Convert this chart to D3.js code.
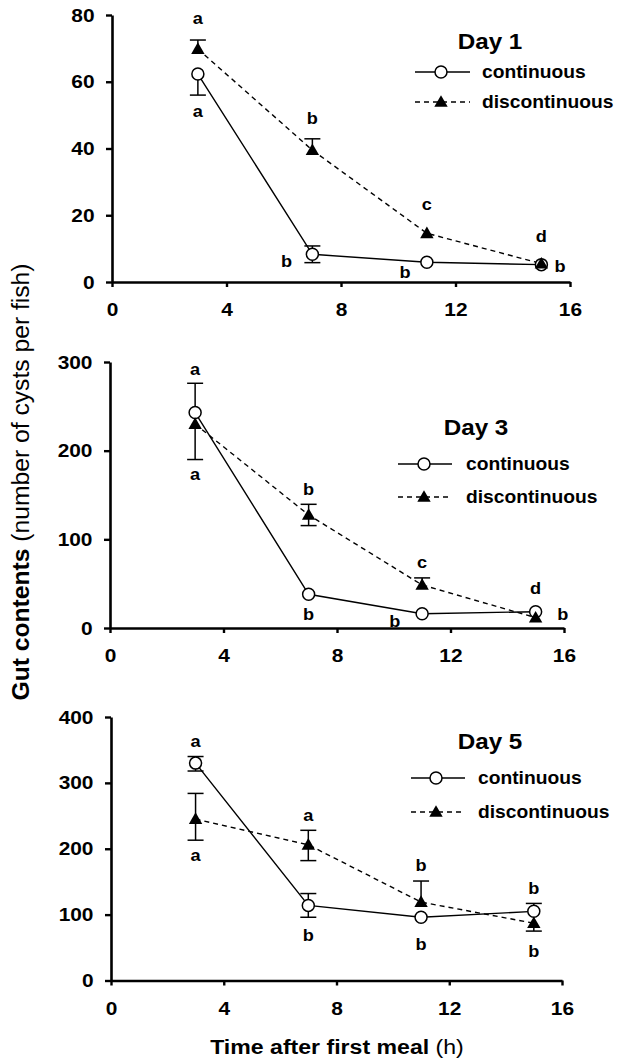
<!DOCTYPE html>
<html>
<head>
<meta charset="utf-8">
<script src="https://cdn.jsdelivr.net/npm/d3@7"></script>
<style>
  body { margin: 0; background: #fff; }
  svg { display: block; font-family: "Liberation Sans", Arial, Helvetica, sans-serif; }
</style>
</head>
<body>
<div id="chart"></div>
<script>
// sampling times (h) and axis ticks
var hours = [3, 7, 11, 15];
var xTicks = [0, 4, 8, 12, 16];
var seriesNames = ["continuous", "discontinuous"];
var dayNames = ["Day 1", "Day 3", "Day 5"];

// Day 1 (gut contents, cysts per fish)
var d1Cont = [62.3, 8.3, 5.9, 5.2];
var d1ContUp = [0, 2.5, 0, 0];
var d1ContDn = [6.3, 2.5, 0, 0];
var d1Disc = [69.8, 39.5, 14.6, 5.5];
var d1DiscUp = [2.7, 3.4, 0, 0];
var d1DiscDn = [0, 0, 0, 0];
var d1Ticks = [0, 20, 40, 60, 80];
var d1Letters = [[3, 78.9, "a"], [3, 51, "a"], [7, 49, "b"], [6.1, 6.2, "b"],
                 [11, 23.3, "c"], [10.24, 2.9, "b"], [15, 13.7, "d"], [15.65, 4.7, "b"]];

// Day 3
var d3Cont = [243, 38, 16, 18.4];
var d3ContUp = [33, 0, 0, 0];
var d3ContDn = [0, 0, 0, 0];
var d3Disc = [230, 127.5, 48.5, 11.7];
var d3DiscUp = [0, 12, 8, 0];
var d3DiscDn = [40, 12, 0, 0];
var d3Ticks = [0, 100, 200, 300];
var d3Letters = [[3, 292, "a"], [3, 173.6, "a"], [7, 156.7, "b"], [7, 14.7, "b"],
                 [10.04, 7.1, "b"], [11, 73.3, "c"], [15, 45, "d"], [15.96, 14.7, "b"]];

// Day 5
var d5Cont = [330, 114, 96, 105];
var d5ContUp = [10, 18, 0, 12];
var d5ContDn = [12, 18, 0, 0];
var d5Disc = [245, 206, 119, 87];
var d5DiscUp = [39, 22, 32, 0];
var d5DiscDn = [32, 24, 0, 12];
var d5Ticks = [0, 100, 200, 300, 400];
var d5Letters = [[3, 363, "a"], [3, 190, "a"], [7, 251, "a"], [7, 67.5, "b"],
                 [11, 175, "b"], [11, 54, "b"], [15, 139, "b"], [15, 44, "b"]];

var width = 619, height = 1059;
var stretch = 1.1;

// panel layout (pixels)
var panels = [
  { name: dayNames[0], cont: d1Cont, contUp: d1ContUp, contDn: d1ContDn,
    disc: d1Disc, discUp: d1DiscUp, discDn: d1DiscDn, ticks: d1Ticks, letters: d1Letters,
    xr: [112, 570], yr: [282, 15],
    leg: { tx: 490, ty: 42, r1: 72, r2: 102, l0: 415, l1: 470, m: 441, t: 482 } },
  { name: dayNames[1], cont: d3Cont, contUp: d3ContUp, contDn: d3ContDn,
    disc: d3Disc, discUp: d3DiscUp, discDn: d3DiscDn, ticks: d3Ticks, letters: d3Letters,
    xr: [110, 564], yr: [628, 362],
    leg: { tx: 476, ty: 428, r1: 464, r2: 497, l0: 398, l1: 452, m: 424, t: 466 } },
  { name: dayNames[2], cont: d5Cont, contUp: d5ContUp, contDn: d5ContDn,
    disc: d5Disc, discUp: d5DiscUp, discDn: d5DiscDn, ticks: d5Ticks, letters: d5Letters,
    xr: [111, 562], yr: [980.5, 717],
    leg: { tx: 490, ty: 742, r1: 778, r2: 812, l0: 411, l1: 465, m: 436, t: 478 } }
];

var svg = d3.select("#chart").append("svg")
  .attr("width", width)
  .attr("height", height);

var triangle = d3.symbol().type(d3.symbolTriangle).size(78);

// text with the slightly wide lettering of the original
function label(g, x, y, txt, size, weight, anchor) {
  return g.append("text")
    .attr("transform", "translate(" + x + "," + y + ") scale(" + stretch + ",1)")
    .attr("text-anchor", anchor || "middle")
    .attr("dy", "0.33em")
    .style("font-size", size + "px")
    .style("font-weight", weight || "bold")
    .text(txt);
}

function errorBars(g, x, y, vals, up, dn) {
  vals.forEach(function(v, i) {
    [[up[i], 1], [dn[i], -1]].forEach(function(e) {
      if (!e[0]) return;
      var end = y(v + e[1] * e[0]);
      g.append("line").attr("x1", x(hours[i])).attr("x2", x(hours[i]))
        .attr("y1", y(v)).attr("y2", end)
        .attr("stroke", "#000").attr("stroke-width", 1.5);
      g.append("line").attr("x1", x(hours[i]) - 8).attr("x2", x(hours[i]) + 8)
        .attr("y1", end).attr("y2", end)
        .attr("stroke", "#000").attr("stroke-width", 1.5);
    });
  });
}

panels.forEach(function(p) {
  var x = d3.scaleLinear().domain([0, 16]).range(p.xr);
  var y = d3.scaleLinear().domain([0, d3.max(p.ticks)]).range(p.yr);
  var g = svg.append("g");

  // axes
  var ya = g.append("g")
    .attr("transform", "translate(" + p.xr[0] + ",0)")
    .call(d3.axisLeft(y).tickValues(p.ticks).tickSize(6).tickSizeOuter(0).tickPadding(11));
  var xa = g.append("g")
    .attr("transform", "translate(0," + p.yr[0] + ")")
    .call(d3.axisBottom(x).tickValues(xTicks).tickSize(5).tickSizeOuter(0).tickPadding(16));
  [ya, xa].forEach(function(a) {
    a.select(".domain").attr("stroke-width", 2.6);
    a.selectAll(".tick line").attr("stroke-width", 2.4);
    a.selectAll(".tick text")
      .style("font-size", "19px").style("font-weight", "bold")
      .style("font-family", "inherit").attr("fill", "#000");
  });
  ya.selectAll(".tick text")
    .attr("x", -17.5 / stretch)
    .attr("transform", "scale(" + stretch + ",1)");
  xa.selectAll(".tick text").attr("transform", "scale(" + stretch + ",1)");

  var line = d3.line()
    .x(function(d, i) { return x(hours[i]); })
    .y(function(d) { return y(d); });

  g.append("path").datum(p.disc).attr("d", line)
    .attr("fill", "none").attr("stroke", "#000").attr("stroke-width", 1.4)
    .attr("stroke-dasharray", "5,4");
  g.append("path").datum(p.cont).attr("d", line)
    .attr("fill", "none").attr("stroke", "#000").attr("stroke-width", 1.4);

  errorBars(g, x, y, p.cont, p.contUp, p.contDn);
  errorBars(g, x, y, p.disc, p.discUp, p.discDn);

  g.selectAll("circle.cont").data(p.cont).enter().append("circle")
    .attr("class", "cont")
    .attr("cx", function(d, i) { return x(hours[i]); })
    .attr("cy", function(d) { return y(d); })
    .attr("r", 6)
    .attr("fill", "#fff").attr("stroke", "#000").attr("stroke-width", 1.5);

  g.selectAll("path.disc").data(p.disc).enter().append("path")
    .attr("class", "disc")
    .attr("d", triangle)
    .attr("transform", function(d, i) { return "translate(" + x(hours[i]) + "," + (y(d) + 1) + ")"; })
    .attr("fill", "#000");

  // significance letters
  p.letters.forEach(function(l) {
    label(g, x(l[0]), y(l[1]), l[2], 16.5, "bold");
  });

  // legend
  var L = p.leg;
  label(g, L.tx, L.ty, p.name, 22, "bold");
  g.append("line").attr("x1", L.l0).attr("x2", L.l1).attr("y1", L.r1).attr("y2", L.r1)
    .attr("stroke", "#000").attr("stroke-width", 1.4);
  g.append("circle").attr("cx", L.m).attr("cy", L.r1).attr("r", 6)
    .attr("fill", "#fff").attr("stroke", "#000").attr("stroke-width", 1.5);
  label(g, L.t, L.r1, seriesNames[0], 17.5, "bold", "start");
  g.append("line").attr("x1", L.l0).attr("x2", L.l1).attr("y1", L.r2).attr("y2", L.r2)
    .attr("stroke", "#000").attr("stroke-width", 1.4).attr("stroke-dasharray", "5,4");
  g.append("path").attr("d", triangle)
    .attr("transform", "translate(" + L.m + "," + (L.r2 + 1) + ")")
    .attr("fill", "#000");
  label(g, L.t, L.r2, seriesNames[1], 17.5, "bold", "start");
});

// axis titles
var xt = svg.append("text")
  .attr("transform", "translate(337,1047) scale(" + stretch + ",1)")
  .attr("text-anchor", "middle").attr("dy", "0.33em")
  .style("font-size", "21px");
xt.append("tspan").style("font-weight", "bold").text("Time after first meal ");
xt.append("tspan").text("(h)");

var yt = svg.append("text")
  .attr("transform", "translate(21,482) rotate(-90) scale(1.05,1)")
  .attr("text-anchor", "middle").attr("dy", "0.36em")
  .style("font-size", "23.5px");
yt.append("tspan").style("font-weight", "bold").text("Gut contents ");
yt.append("tspan").text("(number of cysts per fish)");
</script>
</body>
</html>
